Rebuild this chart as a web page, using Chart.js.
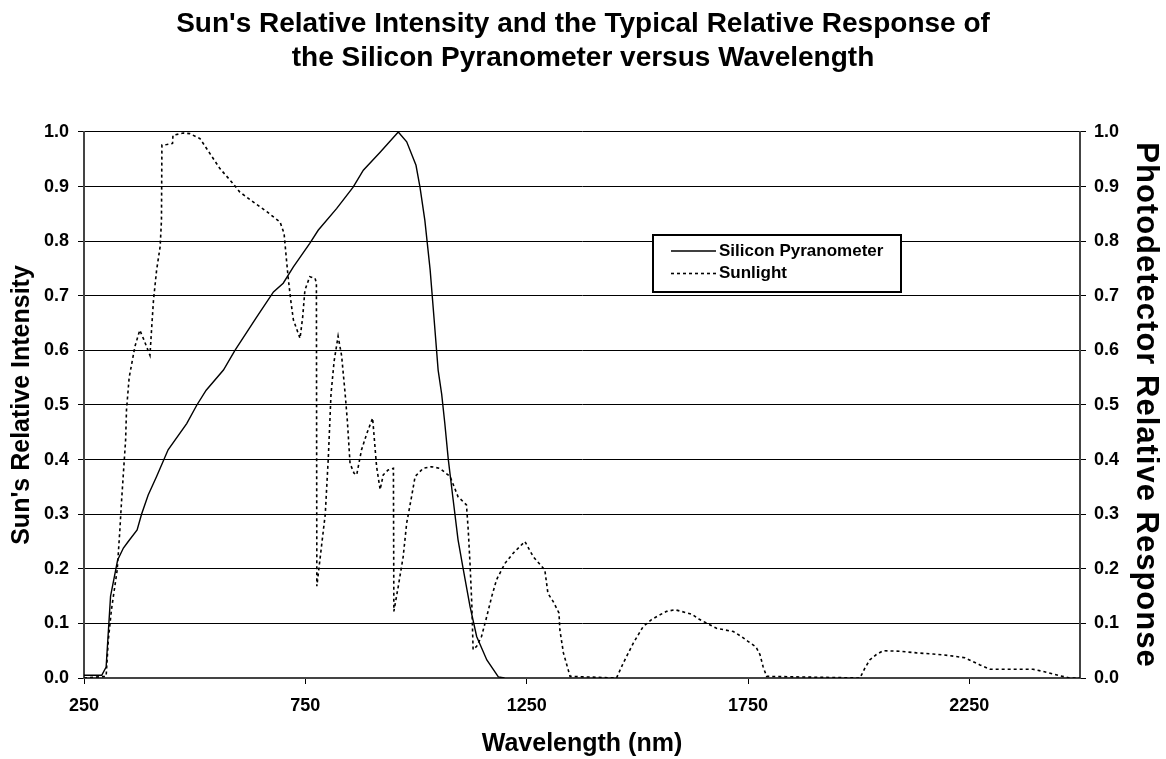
<!DOCTYPE html>
<html>
<head>
<meta charset="utf-8">
<script src="https://cdn.jsdelivr.net/npm/chart.js@4/dist/chart.umd.min.js"></script>
<style>
  html, body { margin: 0; padding: 0; background: #ffffff; }
  #wrap { width: 1166px; height: 759px; }
</style>
</head>
<body>
<div id="wrap"><canvas id="c" width="1166" height="759"></canvas></div>
<script>
// ---------------- DATA ----------------
const chartTitle = ["Sun's Relative Intensity and the Typical Relative Response of", "the Silicon Pyranometer versus Wavelength"];
const xAxisTitle = "Wavelength (nm)";
const leftAxisTitle = "Sun's Relative Intensity";
const rightAxisTitle = "Photodetector Relative Response";
const xTickValues = [250, 750, 1250, 1750, 2250];
const seriesNames = ["Silicon Pyranometer", "Sunlight"];

const siliconWavelength = [250, 290, 300, 310, 326, 339, 350, 370, 380, 395, 414, 440, 482, 505, 526, 565, 591, 640, 678, 700, 723, 760, 779, 821, 858, 881, 919, 960, 979, 1000, 1009, 1020, 1032, 1041, 1050, 1058, 1065, 1073, 1084, 1095, 1107, 1122, 1137, 1160, 1186, 1200];
const siliconResponse = [0.005, 0.005, 0.02, 0.15, 0.216, 0.238, 0.25, 0.271, 0.30, 0.335, 0.369, 0.418, 0.466, 0.50, 0.527, 0.564, 0.60, 0.661, 0.707, 0.723, 0.753, 0.796, 0.82, 0.86, 0.899, 0.93, 0.963, 1.0, 0.982, 0.939, 0.899, 0.838, 0.747, 0.656, 0.564, 0.52, 0.467, 0.40, 0.326, 0.253, 0.198, 0.131, 0.076, 0.033, 0.002, 0.0];

const sunWavelength = [250, 300, 305, 312, 325, 331, 335, 339, 344, 346, 352, 365, 376, 384, 399, 403, 407, 414, 422, 425, 426, 437, 450, 451, 474, 489, 512, 535, 557, 583, 602, 632, 663, 693, 702, 706, 711, 717, 723, 738, 744, 749, 760, 772, 775, 776, 782, 795, 802, 808, 815, 824, 832, 840, 845, 851, 860, 866, 877, 889, 902, 911, 919, 926, 937, 949, 950, 960, 971, 979, 990, 998, 1016, 1035, 1054, 1077, 1095, 1114, 1118, 1122, 1126, 1129, 1137, 1148, 1160, 1171, 1182, 1201, 1220, 1246, 1265, 1291, 1298, 1310, 1323, 1325, 1333, 1348, 1453, 1468, 1491, 1513, 1532, 1547, 1566, 1585, 1623, 1641, 1679, 1717, 1735, 1750, 1768, 1777, 1784, 1792, 2003, 2014, 2025, 2040, 2055, 2093, 2131, 2168, 2206, 2240, 2274, 2297, 2394, 2417, 2455, 2477, 2500];
const sunIntensity = [0, 0.003, 0.07, 0.125, 0.198, 0.271, 0.326, 0.375, 0.436, 0.491, 0.55, 0.607, 0.637, 0.622, 0.591, 0.643, 0.692, 0.747, 0.79, 0.838, 0.976, 0.977, 0.979, 0.994, 0.998, 0.997, 0.988, 0.96, 0.933, 0.909, 0.89, 0.872, 0.854, 0.835, 0.814, 0.778, 0.735, 0.692, 0.656, 0.622, 0.661, 0.71, 0.735, 0.732, 0.723, 0.168, 0.21, 0.30, 0.405, 0.52, 0.58, 0.626, 0.59, 0.52, 0.47, 0.393, 0.375, 0.372, 0.418, 0.448, 0.476, 0.387, 0.345, 0.372, 0.381, 0.384, 0.122, 0.168, 0.222, 0.284, 0.332, 0.369, 0.384, 0.387, 0.384, 0.369, 0.332, 0.317, 0.271, 0.21, 0.137, 0.052, 0.058, 0.076, 0.113, 0.149, 0.18, 0.21, 0.229, 0.25, 0.222, 0.198, 0.155, 0.14, 0.119, 0.088, 0.046, 0.003, 0, 0.027, 0.064, 0.094, 0.107, 0.114, 0.122, 0.125, 0.117, 0.107, 0.091, 0.085, 0.076, 0.067, 0.057, 0.043, 0.021, 0.003, 0, 0.018, 0.033, 0.043, 0.05, 0.049, 0.046, 0.044, 0.041, 0.037, 0.024, 0.016, 0.016, 0.012, 0.004, 0, 0];

// ---------------- CHART ----------------
const FONT = "'Liberation Sans', Arial, Helvetica, sans-serif";
const toPoints = (xs, ys) => xs.map((x, i) => ({ x: x, y: ys[i] }));

const boxLegend = {
  id: 'boxLegend',
  afterDatasetsDraw(chart) {
    const ctx = chart.ctx;
    const x0 = 653, y0 = 235, w = 248, h = 57;
    ctx.save();
    ctx.fillStyle = '#ffffff';
    ctx.fillRect(x0, y0, w, h);
    ctx.lineWidth = 2;
    ctx.strokeStyle = '#000000';
    ctx.strokeRect(x0, y0, w, h);
    ctx.font = 'bold 17px ' + FONT;
    ctx.textBaseline = 'middle';
    ctx.fillStyle = '#000000';
    chart.data.datasets.forEach((ds, i) => {
      const yy = y0 + 16 + i * 22.5;
      ctx.beginPath();
      ctx.lineWidth = ds.borderWidth;
      ctx.setLineDash(ds.borderDash || []);
      ctx.moveTo(x0 + 18, yy);
      ctx.lineTo(x0 + 63, yy);
      ctx.stroke();
      ctx.setLineDash([]);
      ctx.fillText(ds.label, x0 + 66, yy);
    });
    ctx.restore();
  }
};

// slightly widen the letter spacing of the right axis title only
const spacedRightTitle = {
  id: 'spacedRightTitle',
  beforeDraw(chart) {
    const s = chart.scales.y2;
    if (!s || s._spacedPatched) return;
    const orig = s.drawTitle;
    s.drawTitle = function () {
      const ctx = this.ctx;
      const prev = ctx.letterSpacing;
      if (prev !== undefined) ctx.letterSpacing = '1px';
      orig.apply(this, arguments);
      if (prev !== undefined) ctx.letterSpacing = prev;
    };
    s._spacedPatched = true;
  }
};

new Chart(document.getElementById('c'), {
  type: 'line',
  data: {
    datasets: [
      {
        label: seriesNames[0],
        data: toPoints(siliconWavelength, siliconResponse),
        yAxisID: 'y2',
        borderColor: '#000000',
        borderWidth: 1.4,
        pointRadius: 0,
        tension: 0,
        fill: false
      },
      {
        label: seriesNames[1],
        data: toPoints(sunWavelength, sunIntensity),
        yAxisID: 'y',
        borderColor: '#000000',
        borderWidth: 1.6,
        borderDash: [3, 3],
        pointRadius: 0,
        tension: 0,
        fill: false
      }
    ]
  },
  options: {
    responsive: false,
    animation: false,
    devicePixelRatio: 1,
    layout: { padding: 0 },
    plugins: {
      legend: { display: false },
      tooltip: { enabled: false },
      title: {
        display: true,
        text: chartTitle,
        color: '#000000',
        font: { family: FONT, size: 28, weight: 'bold', lineHeight: 1.214 },
        padding: { top: 7, bottom: 57 }
      }
    },
    scales: {
      x: {
        type: 'linear',
        min: 250,
        max: 2500,
        afterBuildTicks: (s) => { s.ticks = xTickValues.map(v => ({ value: v })); },
        afterFit: (s) => { s.height = 81; },
        ticks: {
          color: '#000000',
          font: { family: FONT, size: 18, weight: 'bold' },
          padding: 11,
          maxRotation: 0,
          autoSkip: false,
          callback: (v) => String(v)
        },
        grid: { drawOnChartArea: false, drawTicks: true, tickLength: 6, color: '#000000', lineWidth: 1 },
        border: { display: true, color: '#444444', width: 2 },
        title: {
          display: true,
          text: xAxisTitle,
          color: '#000000',
          font: { family: FONT, size: 25, weight: 'bold' },
          padding: { top: 0, bottom: 0 }
        }
      },
      y: {
        position: 'left',
        min: 0,
        max: 1,
        afterFit: (s) => { s.width = 84; },
        ticks: {
          stepSize: 0.1,
          color: '#000000',
          font: { family: FONT, size: 18, weight: 'bold' },
          padding: 9,
          callback: (v) => Number(v).toFixed(1)
        },
        grid: { drawOnChartArea: true, drawTicks: true, tickLength: 6, color: '#000000', lineWidth: 1 },
        border: { display: true, color: '#444444', width: 2 },
        title: {
          display: true,
          text: leftAxisTitle,
          color: '#000000',
          font: { family: FONT, size: 25, weight: 'bold' },
          padding: { top: 7, bottom: 0 }
        }
      },
      y2: {
        position: 'right',
        min: 0,
        max: 1,
        afterFit: (s) => { s.width = 86; },
        ticks: {
          stepSize: 0.1,
          color: '#000000',
          font: { family: FONT, size: 18, weight: 'bold' },
          padding: 8,
          callback: (v) => Number(v).toFixed(1)
        },
        grid: { drawOnChartArea: false, drawTicks: true, tickLength: 6, color: '#000000', lineWidth: 1 },
        border: { display: true, color: '#444444', width: 2 },
        title: {
          display: true,
          text: rightAxisTitle,
          color: '#000000',
          font: { family: FONT, size: 31, weight: 'bold', lineHeight: 1.1 },
          padding: { top: 3, bottom: 0 }
        }
      }
    }
  },
  plugins: [boxLegend, spacedRightTitle]
});
</script>
</body>
</html>
